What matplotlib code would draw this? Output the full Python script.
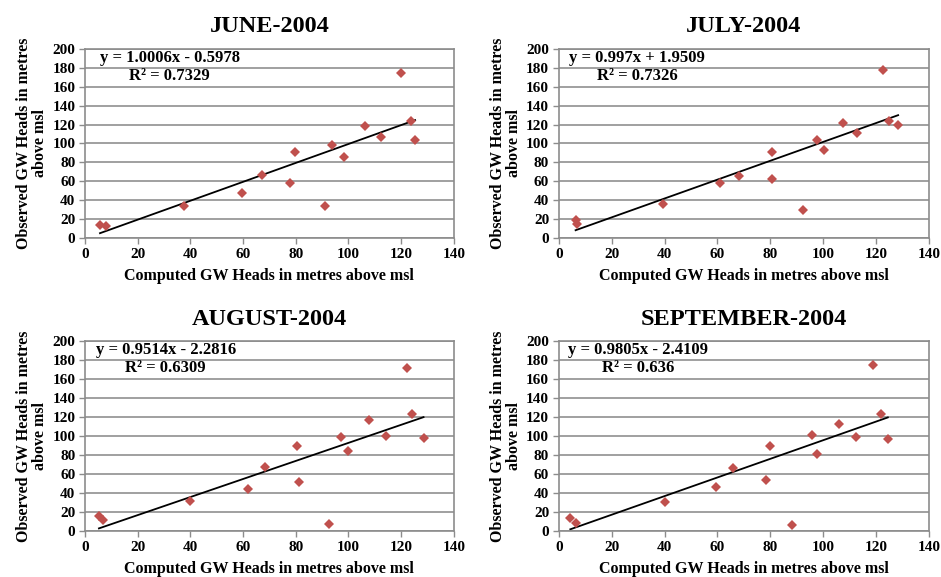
import matplotlib.pyplot as plt

# ---- data ----
june_x = [5.7, 8.0, 37.4, 59.7, 67.0, 77.8, 79.8, 91.1, 93.8, 98.3, 106.2, 112.2, 120.0, 123.7, 125.3]
june_y = [14.1, 12.3, 33.5, 47.5, 66.9, 58.1, 90.5, 33.5, 97.9, 85.2, 118.7, 106.7, 175.0, 124.3, 103.2]

july_x = [6.3, 6.8, 39.4, 60.9, 68.2, 80.8, 80.8, 92.5, 97.5, 100.4, 107.6, 113.0, 122.5, 125.0, 128.4]
july_y = [19.4, 15.1, 35.9, 58.1, 65.1, 90.5, 62.3, 29.9, 103.9, 92.6, 121.5, 110.9, 177.8, 124.3, 119.7]

aug_x = [5.3, 6.7, 39.8, 62.0, 68.5, 80.6, 81.1, 92.7, 97.3, 99.8, 107.8, 114.1, 122.2, 124.2, 128.5]
aug_y = [15.4, 11.2, 31.6, 44.2, 67.4, 89.5, 51.9, 7.7, 98.9, 83.9, 116.5, 100.0, 171.9, 123.5, 97.9]

sep_x = [4.3, 6.3, 40.0, 59.6, 65.9, 78.5, 79.8, 88.2, 95.8, 97.7, 106.2, 112.4, 118.8, 121.8, 124.5]
sep_y = [14.0, 8.8, 30.5, 46.3, 66.3, 54.0, 89.5, 6.7, 101.1, 81.1, 113.0, 98.9, 174.4, 122.8, 96.8]

titles = ['JUNE-2004', 'JULY-2004', 'AUGUST-2004', 'SEPTEMBER-2004']
slopes = [1.0006, 0.997, 0.9514, 0.9805]
intercepts = [-0.5978, 1.9509, -2.2816, -2.4109]
eq_labels = ['y = 1.0006x - 0.5978', 'y = 0.997x + 1.9509', 'y = 0.9514x - 2.2816', 'y = 0.9805x - 2.4109']
r2_labels = ['R² = 0.7329', 'R² = 0.7326', 'R² = 0.6309', 'R² = 0.636']

xs = [june_x, july_x, aug_x, sep_x]
ys = [june_y, july_y, aug_y, sep_y]

plt.rcParams['font.family'] = ['Liberation Serif', 'DejaVu Serif']
plt.rcParams['font.weight'] = 'bold'

fig = plt.figure(figsize=(9.41, 5.77), dpi=100)

# axes rectangles in figure fractions
rects = [
    [0.0903, 0.5875, 0.392, 0.3276],
    [0.594, 0.5875, 0.393, 0.3276],
    [0.0903, 0.0797, 0.392, 0.329],
    [0.594, 0.0797, 0.393, 0.329],
]
eq_x = [0.23, 0.211, 0.219, 0.213]

for i in range(4):
    ax = fig.add_axes(rects[i])
    x, y = xs[i], ys[i]

    ax.set_xlim(0, 140)
    ax.set_ylim(0, 200)
    ax.set_xticks(range(0, 141, 20))
    ax.set_yticks(range(0, 201, 20))
    ax.yaxis.grid(True, color='#a0a0a0', lw=1.4)
    ax.set_axisbelow(True)
    for s in ax.spines.values():
        s.set_color('#8c8c8c')
        s.set_linewidth(1.2)
    ax.tick_params(direction='out', length=4, width=1, color='#8c8c8c',
                   labelsize=11, pad=3)
    for lab in ax.get_xticklabels() + ax.get_yticklabels():
        lab.set_fontweight('bold')

    # trendline across the data range
    x0, x1 = min(x), max(x)
    ax.plot([x0, x1], [slopes[i] * x0 + intercepts[i], slopes[i] * x1 + intercepts[i]],
            color='black', lw=1.3, zorder=2)
    ax.plot(x, y, 'D', color='#C0504D', markersize=5.5, markeredgewidth=0, zorder=3)

    ax.text(eq_x[i], 0.952, eq_labels[i], transform=ax.transAxes, ha='center', va='center',
            fontsize=12, fontweight='bold')
    ax.text(eq_x[i], 0.857, r2_labels[i], transform=ax.transAxes, ha='center', va='center',
            fontsize=12, fontweight='bold')

    ax.set_title(titles[i], fontsize=17.5, fontweight='bold', pad=12)
    ax.set_xlabel('Computed GW Heads in metres above msl', fontsize=11.5, fontweight='bold', labelpad=5)
    ax.set_ylabel('Observed GW Heads in metres\nabove msl', fontsize=11.5, fontweight='bold',
                  labelpad=3, linespacing=1.0)

fig.savefig('out.png', dpi=100)
